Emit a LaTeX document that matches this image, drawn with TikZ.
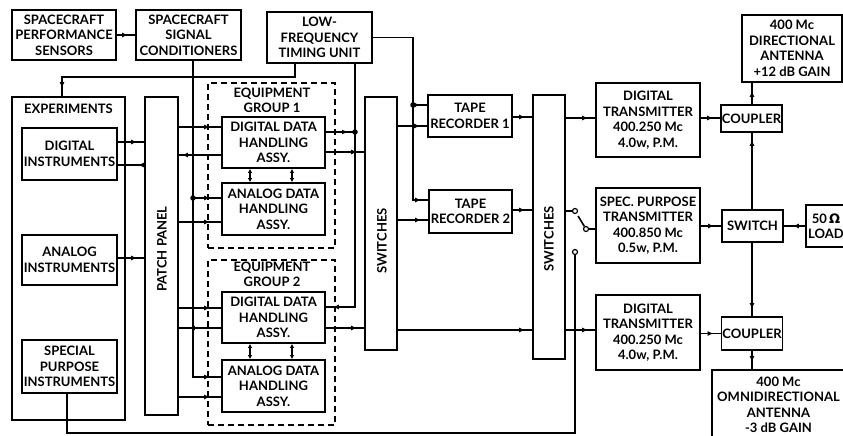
\documentclass[tikz,border=0pt]{standalone}
\usepackage{fontspec}
\setmainfont{Lato}
\newfontfamily\gfont{DejaVu Sans}
\usetikzlibrary{arrows.meta,decorations.markings,calc}
\newcommand\dfont{\bfseries\fontsize{13}{15.5}\selectfont}
\tikzset{
  box/.style={draw, line width=1.7pt, inner sep=1pt, align=center, font=\dfont},
  txt/.style={inner sep=0pt, align=center, font=\dfont},
  grp/.style={draw, line width=1.5pt, dash pattern=on 6pt off 4pt},
  fwd/.style={postaction={decorate,decoration={markings,mark=at position #1 with {\arrow{Latex[length=6pt,width=5pt]}}}}},
  fwd/.default={-7pt},
  bidir/.style={{Latex[length=4pt,width=4.5pt]}-{Latex[length=4pt,width=4.5pt]}},
  contact/.style={circle, draw, fill=white, line width=1.2pt, inner sep=0pt, minimum size=5pt},
  dot/.style={circle, fill, inner sep=0pt, minimum size=5.5pt}
}
\begin{document}
\begin{tikzpicture}[x=1pt,y=-1pt,line width=1.6pt]
\useasboundingbox (0,0) rectangle (843,436);
% level coordinates
\foreach \v in {77,105,117,118,126,127,132,142,152,155,165,198,200,210,220,222,258,307,308,328,330,377,397,433}
  {\coordinate (h\v) at (0,\v);}
\foreach \v in {62,67,193,250,292,295,355,413,575,752}
  {\coordinate (v\v) at (\v,0);}
% nodes
\node[box, minimum width=104pt, minimum height=50pt] (sps) at (64,35) {SPACECRAFT\\PERFORMANCE\\SENSORS};
\node[box, minimum width=105pt, minimum height=50pt] (ssc) at (188.5,35) {SPACECRAFT\\SIGNAL\\CONDITIONERS};
\node[box, minimum width=105pt, minimum height=51pt] (lft) at (319.5,37.5) {LOW-\\FREQUENCY\\TIMING UNIT};
\node[box, minimum width=113pt, minimum height=323pt] (exp) at (68.5,258.5) {};
\node[txt] (explbl) at (68.5,109) {EXPERIMENTS};
\node[box, minimum width=95pt, minimum height=52pt] (dig) at (69.5,154) {DIGITAL\\INSTRUMENTS};
\node[box, minimum width=95pt, minimum height=50pt] (ana) at (69.5,260) {ANALOG\\INSTRUMENTS};
\node[box, minimum width=95pt, minimum height=53pt] (spi) at (69.5,366.5) {SPECIAL\\PURPOSE\\INSTRUMENTS};
\node[box, minimum width=33pt, minimum height=318pt] (pp) at (161.5,256) {};
\node[txt, rotate=90] (pptxt) at (162,249) {PATCH PANEL};
\node[grp, minimum width=127pt, minimum height=165pt] (g1) at (271.5,165.5) {};
\node[txt] (g1lbl) at (272,100.5) {EQUIPMENT\\GROUP 1};
\node[grp, minimum width=127pt, minimum height=165pt] (g2) at (271.5,342.5) {};
\node[txt] (g2lbl) at (272,274.5) {EQUIPMENT\\GROUP 2};
\node[box, minimum width=103pt, minimum height=51pt] (dd1) at (273.5,142.5) {DIGITAL DATA\\HANDLING\\ASSY.};
\node[box, minimum width=103pt, minimum height=52pt] (ad1) at (273.5,209) {ANALOG DATA\\HANDLING\\ASSY.};
\node[box, minimum width=103pt, minimum height=51pt] (dd2) at (273.5,317.5) {DIGITAL DATA\\HANDLING\\ASSY.};
\node[box, minimum width=103pt, minimum height=52pt] (ad2) at (273.5,386) {ANALOG DATA\\HANDLING\\ASSY.};
\node[box, minimum width=32pt, minimum height=253pt] (sw1) at (381,223.5) {};
\node[txt, rotate=90] (sw1txt) at (382,241) {SWITCHES};
\node[box, minimum width=84pt, minimum height=42pt] (tr1) at (470,116) {TAPE\\RECORDER 1};
\node[box, minimum width=83pt, minimum height=43pt] (tr2) at (470.5,211.5) {TAPE\\RECORDER 2};
\node[box, minimum width=32pt, minimum height=264pt] (sw2) at (549,227) {};
\node[txt, rotate=90] (sw2txt) at (549,239) {SWITCHES};
\node[box, minimum width=104pt, minimum height=74pt] (dt1) at (648,120) {DIGITAL\\TRANSMITTER\\400.250 Mc\\4.0w, P.M.};
\node[box, minimum width=104pt, minimum height=75pt] (spt) at (648,225.5) {SPEC. PURPOSE\\TRANSMITTER\\400.850 Mc\\0.5w, P.M.};
\node[box, minimum width=104pt, minimum height=75pt] (dt2) at (648,332.5) {DIGITAL\\TRANSMITTER\\400.250 Mc\\4.0w, P.M.};
\node[box, minimum width=61pt, minimum height=27pt] (cp1) at (751.5,118.5) {COUPLER};
\node[box, minimum width=100pt, minimum height=67pt] (dir) at (792,48.5) {400 Mc\\DIRECTIONAL\\ANTENNA\\+12 dB GAIN};
\node[box, minimum width=61pt, minimum height=32pt] (swb) at (752.5,226) {SWITCH};
\node[box, minimum width=40pt, minimum height=42pt] (load) at (826,226) {50\,{\gfont\bfseries Ω}\\LOAD};
\node[box, minimum width=60pt, minimum height=33pt] (cp2) at (752,333.5) {COUPLER};
\node[box, minimum width=133pt, minimum height=70pt] (omni) at (778.5,405) {400 Mc\\OMNIDIRECTIONAL\\ANTENNA\\-3 dB GAIN};
% contacts of the spec. purpose switch
\node[contact] (c1) at (575,211) {};
\node[contact] (c2) at (586,229) {};
\node[contact] (c3) at (575,252) {};
% connectors
\draw[fwd] (sps.east) -- (ssc.west);
\draw[fwd=-8pt] (lft.south -| v295) -- (v295 |- h77) -- (v62 |- h77) -- (exp.north -| v62);
\draw[fwd=-11pt] (ssc.south -| v193) -- (v193 |- h377) -- (ad2.west |- h377);
\draw[fwd=-11pt] (v193 |- h198) -- (ad1.west |- h198);
\node[dot] (d1) at (v193 |- h198) {};
\draw[fwd] (lft.east) -- (v413 |- lft.east) -- (v413 |- h200) -- (tr2.west |- h200);
\draw[fwd] (v413 |- h105) -- (tr1.west |- h105);
\node[dot] (d2) at (v413 |- h105) {};
\draw[fwd] (lft.south -| v355) -- (v355 |- h307) -- (dd2.east |- h307);
\draw[fwd] (dd1.east |- h132) -- (v355 |- h132);
\node[dot] (d3) at (v355 |- h132) {};
% instruments and patch panel
\draw[fwd] (dig.east |- h142) -- (pp.west |- h142);
\draw[fwd=-20pt] (pp.west |- h165) -- (dig.east |- h165);
\draw[fwd] (ana.east |- h258) -- (pp.west |- h258);
% patch panel and equipment groups
\draw[fwd=-11pt] (pp.east |- h127) -- (dd1.west |- h127);
\draw[fwd=-3pt] (dd1.west |- h155) -- (pp.east |- h155);
\draw[fwd=-11pt] (pp.east |- h222) -- (ad1.west |- h222);
\draw[fwd=-11pt] (pp.east |- h308) -- (dd2.west |- h308);
\draw[fwd=-10pt] (dd2.west |- h328) -- (pp.east |- h328);
\draw[fwd=-11pt] (pp.east |- h397) -- (ad2.west |- h397);
\draw[bidir] (dd1.south -| v250) -- (ad1.north -| v250);
\draw[bidir] (dd1.south -| v292) -- (ad1.north -| v292);
\draw[bidir] (dd2.south -| v250) -- (ad2.north -| v250);
\draw[bidir] (dd2.south -| v292) -- (ad2.north -| v292);
% to switches and tape recorders
\draw[fwd] (dd1.east |- h152) -- (sw1.west |- h152);
\draw[fwd] (dd2.east |- h328) -- (sw1.west |- h328);
\draw[fwd] (sw1.east |- h126) -- (tr1.west |- h126);
\draw[fwd] (sw1.east |- h220) -- (tr2.west |- h220);
\draw[fwd] (tr1.east |- h117) -- (sw2.west |- h117);
\draw[fwd] (tr2.east |- h210) -- (sw2.west |- h210);
\draw[fwd] (sw1.east |- h330) -- (sw2.west |- h330);
\draw[fwd] (sw2.east |- h118) -- (dt1.west |- h118);
\draw[fwd] (sw2.east |- h330) -- (dt2.west |- h330);
% spec. purpose switch
\draw (sw2.east |- c1) -- (c1.west);
\draw (c2.east) -- (spt.west |- c2);
\draw (c2) -- ($(c2)!0.72!(c1)$);
\draw (c3.south) -- (v575 |- h433) -- (v67 |- h433) -- (spi.south -| v67);
% transmitters, couplers, antennas
\draw[fwd] (dt1.east |- h118) -- (cp1.west |- h118);
\draw[fwd] (spt.east |- swb.west) -- (swb.west);
\draw[fwd=-9pt] (load.west) -- (swb.east);
\draw[fwd] (dt2.east |- cp2.west) -- (cp2.west);
\draw[fwd=-8pt] (cp1.north -| v752) -- (dir.south -| v752);
\draw[fwd] (swb.north -| v752) -- (cp1.south -| v752);
\draw[fwd] (swb.south -| v752) -- (cp2.north -| v752);
\draw[fwd] (cp2.south -| v752) -- (omni.north -| v752);
\end{tikzpicture}
\end{document}
